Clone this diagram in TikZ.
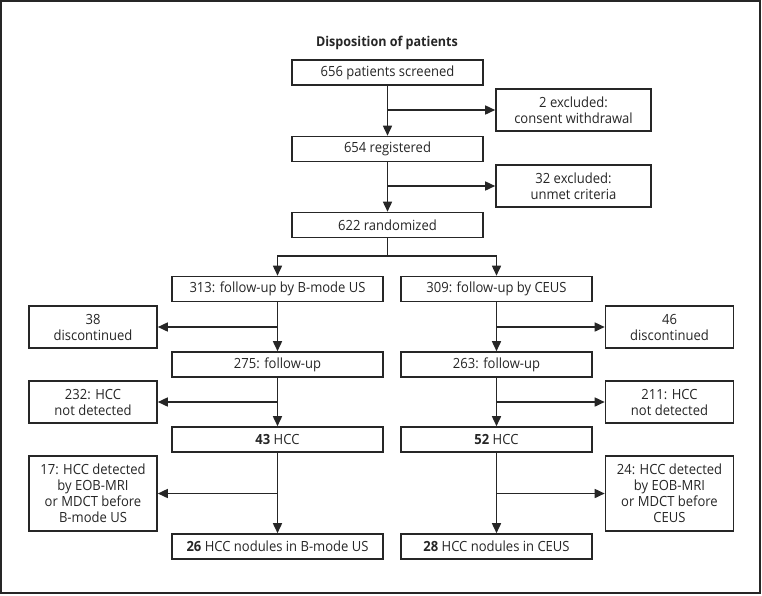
\documentclass[tikz,border=0pt]{standalone}
\usepackage{fontspec}
\setmainfont[FakeStretch=0.93]{Open Sans}
\usetikzlibrary{arrows.meta}
\definecolor{ink}{HTML}{262626}

\begin{document}
\begin{tikzpicture}[x=1pt,y=-1pt,
    box/.style={draw=ink, text=ink, line width=1.6pt, align=center, inner sep=2pt,
      font=\fontsize{14}{16}\selectfont},
    mainbox/.style={box, minimum width=191pt, minimum height=25pt},
    widebox/.style={mainbox, minimum width=211pt},
    sidebox/.style={box, minimum width=128pt, minimum height=42pt},
    arr/.style={draw=ink, line width=1.6pt, -{Triangle[length=10pt,width=9pt]}},
  ]
  \useasboundingbox (0,0) rectangle (762,595);
  \draw[ink, line width=1.6pt] (1,1) rectangle (760,593);

  \node[text=ink, font=\bfseries\fontsize{13.5}{16}\selectfont] (title) at (387,43) {Disposition of patients};

  % enrolment
  \node[mainbox] (screened) at (387.5,72.5) {656 patients screened};
  \node[sidebox, minimum width=155pt] (exone) at (573.5,110) {2 excluded:\\consent withdrawal};
  \node[mainbox] (registered) at (387.5,149) {654 registered};
  \node[sidebox, minimum width=155pt] (extwo) at (573.5,186) {32 excluded:\\unmet criteria};
  \node[mainbox] (randomized) at (387.5,225) {622 randomized};
  \coordinate (split) at (387.5,256);

  % B-mode US arm
  \node[widebox] (bmode) at (277.5,289) {313: follow-up by B-mode US};
  \node[sidebox] (discl) at (93,327) {38\\discontinued};
  \node[widebox] (fupl) at (277.5,364.5) {275: follow-up};
  \node[sidebox] (notdetl) at (93,402) {232: HCC\\not detected};
  \node[widebox] (hccl) at (277.5,439.5) {\textbf{43} HCC};
  \node[sidebox, minimum height=75pt] (priorl) at (93,493.5) {17: HCC detected\\by EOB-MRI\\or MDCT before\\B-mode US};
  \node[widebox] (nodl) at (277.5,546.5) {\textbf{26} HCC nodules in B-mode US};

  % CEUS arm
  \node[mainbox] (ceus) at (496.5,289) {309: follow-up by CEUS};
  \node[sidebox] (discr) at (669.5,327) {46\\discontinued};
  \node[mainbox] (fupr) at (496.5,364.5) {263: follow-up};
  \node[sidebox] (notdetr) at (669.5,402) {211: HCC\\not detected};
  \node[mainbox] (hccr) at (496.5,439.5) {\textbf{52} HCC};
  \node[sidebox, minimum height=75pt] (priorr) at (669.5,493.5) {24: HCC detected\\by EOB-MRI\\or MDCT before\\CEUS};
  \node[mainbox] (nodr) at (496.5,546.5) {\textbf{28} HCC nodules in CEUS};

  % connectors
  \draw[arr] (screened) -- (registered);
  \draw[arr] (screened.south |- exone.west) -- (exone.west);
  \draw[arr] (registered) -- (randomized);
  \draw[arr] (registered.south |- extwo.west) -- (extwo.west);
  \draw[ink, line width=1.6pt] (randomized.south) -- (split);
  \draw[arr] (split) -| (bmode.north);
  \draw[arr] (split) -| (ceus.north);

  \draw[arr] (bmode) -- (fupl);
  \draw[arr] (bmode.south |- discl.east) -- (discl.east);
  \draw[arr] (fupl) -- (hccl);
  \draw[arr] (fupl.south |- notdetl.east) -- (notdetl.east);
  \draw[arr] (hccl) -- (nodl);
  \draw[arr] (hccl.south |- priorl.east) -- (priorl.east);

  \draw[arr] (ceus) -- (fupr);
  \draw[arr] (ceus.south |- discr.west) -- (discr.west);
  \draw[arr] (fupr) -- (hccr);
  \draw[arr] (fupr.south |- notdetr.west) -- (notdetr.west);
  \draw[arr] (hccr) -- (nodr);
  \draw[arr] (hccr.south |- priorr.west) -- (priorr.west);
\end{tikzpicture}
\end{document}
